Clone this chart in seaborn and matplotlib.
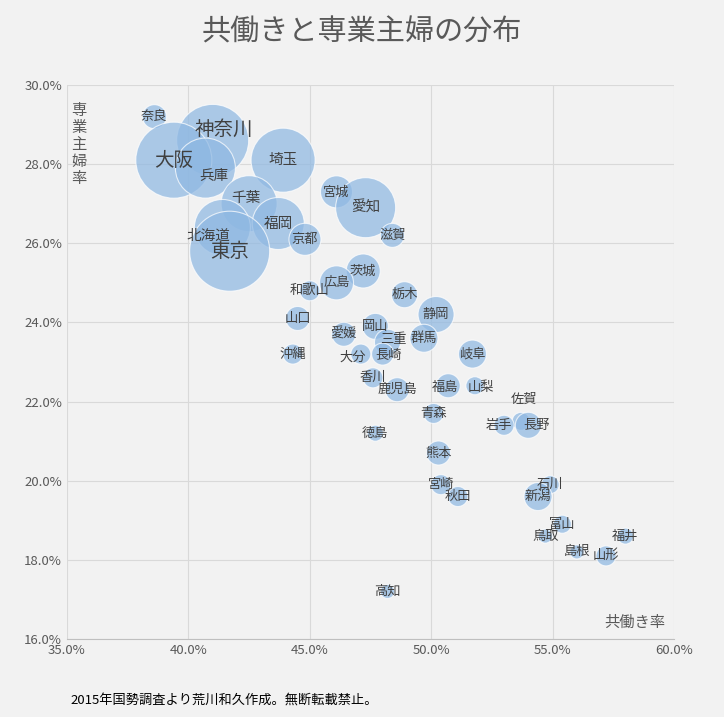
import matplotlib.pyplot as plt
import pandas as pd
import seaborn as sns

# 都道府県ごとの共働き率・専業主婦率
prefs = ['奈良', '神奈川', '大阪', '兵庫', '埼玉', '宮城', '愛知', '千葉', '北海道', '福岡',
         '東京', '京都', '滋賀', '茨城', '広島', '和歌山', '栃木', '静岡', '山口', '愛媛',
         '岡山', '三重', '群馬', '長崎', '大分', '沖縄', '岐阜', '香川', '福島', '山梨',
         '鹿児島', '青森', '佐賀', '岩手', '長野', '徳島', '熊本', '石川', '宮崎', '秋田',
         '新潟', '富山', '福井', '鳥取', '島根', '山形', '高知']
kyobataraki = [38.6, 41.0, 39.4, 40.7, 43.9, 46.1, 47.3, 42.5, 41.4, 43.7,
               41.7, 44.8, 48.4, 47.2, 46.1, 45.0, 48.9, 50.2, 44.5, 46.4,
               47.7, 48.2, 49.7, 48.0, 47.1, 44.3, 51.7, 47.6, 50.7, 51.8,
               48.6, 50.1, 53.7, 53.0, 54.0, 47.7, 50.3, 54.9, 50.4, 51.1,
               54.4, 55.4, 58.0, 54.7, 56.0, 57.2, 48.2]
sengyo = [29.2, 28.6, 28.1, 27.9, 28.1, 27.3, 26.9, 27.0, 26.4, 26.5,
          25.8, 26.1, 26.2, 25.3, 25.0, 24.8, 24.7, 24.2, 24.1, 23.7,
          23.9, 23.5, 23.6, 23.2, 23.2, 23.2, 23.2, 22.6, 22.4, 22.4,
          22.3, 21.7, 21.5, 21.4, 21.4, 21.2, 20.7, 19.9, 19.9, 19.6,
          19.6, 18.9, 18.6, 18.6, 18.2, 18.1, 17.2]
bubble = [12, 36, 38, 30, 32, 16, 30, 28, 28, 26,
          40, 16, 12, 17, 17, 10, 13, 18, 12, 12,
          13, 13, 14, 11, 10, 10, 14, 10, 12, 9,
          12, 10, 9, 10, 13, 8, 12, 9, 10, 10,
          14, 9, 8, 7, 7, 10, 7]

# ラベルの位置調整（ポイント単位）
label_offset = {'佐賀': (2, 16), '岩手': (-4, 0), '長野': (6, 0), '大分': (-6, -2),
                '長崎': (4, -1), '三重': (4, 2), '神奈川': (8, 8), '兵庫': (6, -6),
                '北海道': (-10, -6), '千葉': (-2, 4), '山梨': (4, -1), '福島': (-2, -1)}

df = pd.DataFrame({'pref': prefs, 'x': kyobataraki, 'y': sengyo, 'r': bubble})
df['s'] = (2 * df['r'] * 0.72) ** 2

plt.rcParams['font.family'] = 'Noto Sans CJK JP'
bg = '#F2F2F2'
fig = plt.figure(figsize=(7.24, 7.17), dpi=100, facecolor=bg)
ax = fig.add_axes([67 / 724, 1 - 639 / 717, 607 / 724, 554 / 717], facecolor=bg)

sns.scatterplot(data=df, x='x', y='y', s=df['s'], color='#8FB8E2', alpha=0.72,
                edgecolor='white', linewidth=0.8, ax=ax, legend=False)

for _, row in df.iterrows():
    fs = 14 if row['r'] >= 36 else (10.5 if row['r'] >= 26 else 9.5)
    ax.annotate(row['pref'], (row['x'], row['y']), xytext=label_offset.get(row['pref'], (0, 0)),
                textcoords='offset points', ha='center', va='center',
                fontsize=fs, color='#404040')

ax.set_xlim(35, 60)
ax.set_ylim(16, 30)
ax.set_xticks([35, 40, 45, 50, 55, 60])
ax.set_yticks([16, 18, 20, 22, 24, 26, 28, 30])
ax.set_xticklabels([f'{v:.1f}%' for v in ax.get_xticks()])
ax.set_yticklabels([f'{v:.1f}%' for v in ax.get_yticks()])
ax.tick_params(colors='#595959', labelsize=9.5, length=0)
ax.grid(color='#D9D9D9', linewidth=0.8)
ax.set_axisbelow(True)
for side in ['top', 'right', 'left']:
    ax.spines[side].set_visible(False)
ax.spines['bottom'].set_color('#BFBFBF')
ax.set_xlabel('')
ax.set_ylabel('')

ax.text(0.02, 0.97, '専\n業\n主\n婦\n率', transform=ax.transAxes, ha='center', va='top',
        fontsize=11, color='#595959', linespacing=1.0)
ax.text(0.985, 0.015, '共働き率', transform=ax.transAxes, ha='right', va='bottom',
        fontsize=11, color='#595959')

fig.text(0.5, 0.955, '共働きと専業主婦の分布', ha='center', va='center',
         fontsize=21, color='#595959')
fig.text(70 / 724, 1 - 700 / 717, '2015年国勢調査より荒川和久作成。無断転載禁止。',
         ha='left', va='center', fontsize=9.5, color='#000000')

plt.savefig('out.png', dpi=100, facecolor=bg)
